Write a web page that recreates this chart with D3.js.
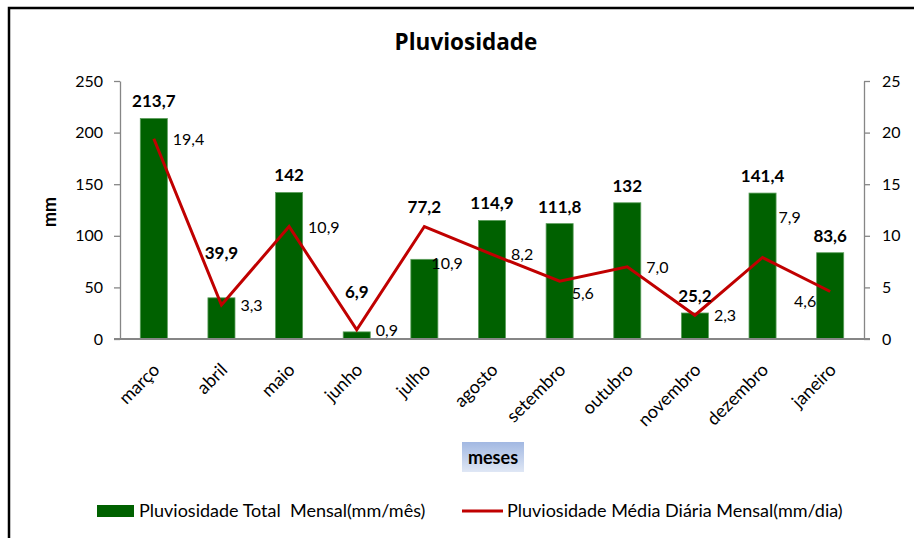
<!DOCTYPE html>
<html>
<head>
<meta charset="utf-8">
<script src="https://cdn.jsdelivr.net/npm/d3@7"></script>
<style>
  body { margin: 0; background: #fff; }
  text { font-family: Lato, "Open Sans", sans-serif; fill: #000; white-space: pre; }
</style>
</head>
<body>
<div id="wrapper"></div>
<script>
// data
const months = ["março","abril","maio","junho","julho","agosto","setembro","outubro","novembro","dezembro","janeiro"];
const totalMensal = [213.7, 39.9, 142, 6.9, 77.2, 114.9, 111.8, 132, 25.2, 141.4, 83.6];
const mediaDiaria = [19.4, 3.3, 10.9, 0.9, 10.9, 8.2, 5.6, 7.0, 2.3, 7.9, 4.6];
const leftTicks = [0, 50, 100, 150, 200, 250];
const rightTicks = [0, 5, 10, 15, 20, 25];
const seriesNames = ["Pluviosidade Total  Mensal(mm/mês)", "Pluviosidade Média Diária Mensal(mm/dia)"];

// labels that were moved by hand in the original
const barLabelLift = {"abril": 28, "junho": 23, "julho": 35};
const lineLabelMove = {"julho": [-12, 36], "setembro": [-7, 12], "dezembro": [-3, -40], "janeiro": [-33, 9, "end"]};

const fmt = v => d3.format(".1f")(v).replace(".", ",");
const fmtBar = v => (Number.isInteger(v) ? String(v) : d3.format(".1f")(v).replace(".", ","));

const width = 914, height = 538;
const plot = {left: 120, right: 864, top: 81, bottom: 339};

const svg = d3.select("#wrapper").append("svg")
  .attr("width", width)
  .attr("height", height);

// frame
svg.append("rect")
  .attr("x", 9).attr("y", 8)
  .attr("width", width + 20).attr("height", height + 20)
  .attr("fill", "#fff")
  .attr("stroke", "#000")
  .attr("stroke-width", 2.5);

// scales
const xScale = d3.scaleBand().domain(months).range([plot.left, plot.right]);
const yLeft = d3.scaleLinear().domain([0, 250]).range([plot.bottom, plot.top]);
const yRight = d3.scaleLinear().domain([0, 25]).range([plot.bottom, plot.top]);
const cx = m => xScale(m) + xScale.bandwidth() / 2;
const barW = xScale.bandwidth() * 0.4;

// title
svg.append("text")
  .attr("x", 466).attr("y", 49.5)
  .attr("text-anchor", "middle")
  .style("font-family", "'Open Sans', sans-serif")
  .style("font-size", "22.5px").style("font-weight", "bold")
  .text("Pluviosidade");

// bars
svg.append("g").selectAll("rect")
  .data(months)
  .join("rect")
  .attr("x", m => cx(m) - barW / 2)
  .attr("y", (m, i) => yLeft(totalMensal[i]))
  .attr("width", barW)
  .attr("height", (m, i) => plot.bottom - yLeft(totalMensal[i]))
  .attr("fill", "#006100")
  .attr("stroke", "#5c9e5c")
  .attr("stroke-width", 0.8);

// axes
const leftAxis = svg.append("g")
  .attr("transform", `translate(${plot.left},0)`)
  .call(d3.axisLeft(yLeft).tickValues(leftTicks).tickSize(6).tickPadding(11).tickSizeOuter(0));
const rightAxis = svg.append("g")
  .attr("transform", `translate(${plot.right},0)`)
  .call(d3.axisRight(yRight).tickValues(rightTicks).tickSize(6).tickPadding(12).tickSizeOuter(0));
[leftAxis, rightAxis].forEach(a => {
  a.select(".domain").attr("stroke", "#868686").attr("stroke-width", 1.3);
  a.selectAll(".tick line").attr("stroke", "#868686").attr("stroke-width", 1.3);
  a.selectAll(".tick text").style("font-size", "16px").style("font-family", "Lato, sans-serif").attr("fill", "#000");
});

// category axis
svg.append("line")
  .attr("x1", plot.left - 6).attr("x2", plot.right + 6)
  .attr("y1", plot.bottom).attr("y2", plot.bottom)
  .attr("stroke", "#868686").attr("stroke-width", 1.8);

svg.append("g").selectAll("text")
  .data(months)
  .join("text")
  .attr("transform", m => `translate(${cx(m) + 7},${plot.bottom + 32}) rotate(-45)`)
  .attr("text-anchor", "end")
  .style("font-size", "18px")
  .text(m => m);

// line
const line = d3.line()
  .x((d, i) => cx(months[i]))
  .y(d => yRight(d));
svg.append("path")
  .datum(mediaDiaria)
  .attr("d", line)
  .attr("fill", "none")
  .attr("stroke", "#c00000")
  .attr("stroke-width", 3)
  .attr("stroke-linejoin", "miter");

// bar labels
svg.append("g").selectAll("text")
  .data(months)
  .join("text")
  .attr("x", m => cx(m))
  .attr("y", (m, i) => yLeft(totalMensal[i]) - 11 - (barLabelLift[m] || 0))
  .attr("text-anchor", "middle")
  .style("font-size", "17px").style("font-weight", "bold")
  .text((m, i) => fmtBar(totalMensal[i]));

// line labels
svg.append("g").selectAll("text")
  .data(months)
  .join("text")
  .attr("x", m => cx(m) + 19 + (lineLabelMove[m] ? lineLabelMove[m][0] : 0))
  .attr("y", (m, i) => yRight(mediaDiaria[i]) + 6 + (lineLabelMove[m] ? lineLabelMove[m][1] : 0))
  .attr("text-anchor", m => (lineLabelMove[m] && lineLabelMove[m][2]) || "start")
  .style("font-size", "16px")
  .text((m, i) => fmt(mediaDiaria[i]));

// y title
svg.append("text")
  .attr("transform", "translate(56,212) rotate(-90)")
  .attr("text-anchor", "middle")
  .style("font-size", "18px").style("font-weight", "bold")
  .text("mm");

// x title in a shaded box
const grad = svg.append("defs").append("linearGradient")
  .attr("id", "mesesGrad").attr("x1", 0).attr("y1", 0).attr("x2", 0).attr("y2", 1);
grad.append("stop").attr("offset", "0%").attr("stop-color", "#a2b8e2");
grad.append("stop").attr("offset", "100%").attr("stop-color", "#dfe7f5");
svg.append("rect")
  .attr("x", 462).attr("y", 442).attr("width", 62).attr("height", 30)
  .attr("fill", "url(#mesesGrad)");
svg.append("text")
  .attr("x", 493).attr("y", 464)
  .attr("text-anchor", "middle")
  .style("font-size", "18px").style("font-weight", "bold")
  .text("meses");

// legend
const legend = svg.append("g");
legend.append("rect")
  .attr("x", 97).attr("y", 505).attr("width", 37).attr("height", 12)
  .attr("fill", "#006100");
legend.append("text")
  .attr("x", 139).attr("y", 517)
  .style("font-size", "18px")
  .text(seriesNames[0]);
legend.append("line")
  .attr("x1", 462).attr("x2", 503).attr("y1", 511).attr("y2", 511)
  .attr("stroke", "#c00000").attr("stroke-width", 3);
legend.append("text")
  .attr("x", 507).attr("y", 517)
  .style("font-size", "18px")
  .text(seriesNames[1]);
</script>
</body>
</html>
